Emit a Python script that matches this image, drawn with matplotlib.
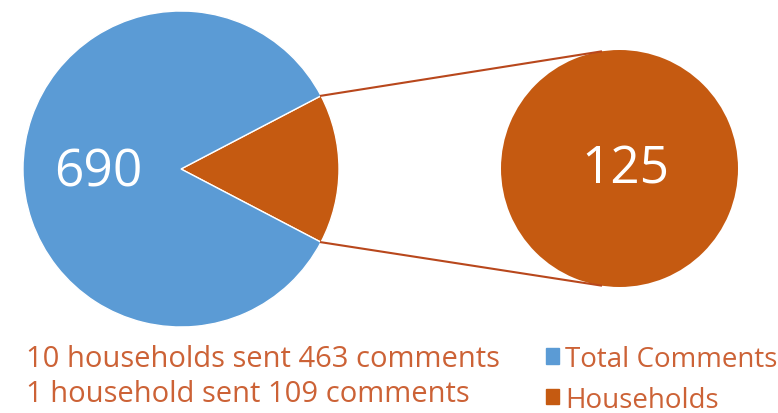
import numpy as np
import matplotlib.pyplot as plt
from matplotlib.patches import Patch

# data
labels = ['Households', 'Total Comments']
values = [125, 690]
notes = ['10 households sent 463 comments', '1 household sent 109 comments']

blue = '#5B9BD5'
orange = '#C55A11'
txt = '#CC6236'
line_col = '#B8471C'
fam = ['Open Sans', 'DejaVu Sans']

W, H = 778, 414
fig = plt.figure(figsize=(W / 100, H / 100), dpi=100)
ax = fig.add_axes([0, 0, 1, 1])

# main pie
c1, r1 = (181, 244), 158
half = values[0] / sum(values) * 360 / 2
ax.pie(values, colors=[orange, blue], startangle=-half, counterclock=True,
       center=c1, radius=r1, frame=True,
       wedgeprops=dict(edgecolor='white', linewidth=1))
ax.text(c1[0] - 82.5, c1[1] - 3, str(values[1]), color='white', fontsize=37,
        ha='center', va='center', family=fam)

# secondary pie
c2, r2 = (619.5, 244.5), 118.5
ax.pie([values[0]], colors=[orange], center=c2, radius=r2, frame=True)
ax.text(c2[0] + 6, c2[1] - 1, str(values[0]), color='white', fontsize=37,
        ha='center', va='center', family=fam)

ax.set_xlim(0, W)
ax.set_ylim(0, H)
ax.set_aspect('equal')
ax.axis('off')

# connector lines
for a0, a1 in ((half, 99), (-half, 261)):
    a0, a1 = np.deg2rad(a0), np.deg2rad(a1)
    p0 = (c1[0] + r1 * np.cos(a0), c1[1] + r1 * np.sin(a0))
    p1 = (c2[0] + r2 * np.cos(a1), c2[1] + r2 * np.sin(a1))
    ax.plot([p0[0], p1[0]], [p0[1], p1[1]], color=line_col, lw=1.5)

# notes
for i, s in enumerate(notes):
    ax.text(26, 47 - i * 35, s, color=txt, fontsize=21, family=fam,
            ha='left', va='baseline')

# legend
handles = [Patch(color=blue), Patch(color=orange)]
leg = ax.legend(handles, [labels[1], labels[0]], loc='upper left',
                bbox_to_anchor=(546 / W, 1 - 346 / H), frameon=False,
                handlelength=0.48, handleheight=0.48, handletextpad=0.2,
                labelspacing=0.45, borderaxespad=0, borderpad=0,
                prop=dict(family=fam, size=20))
for t in leg.get_texts():
    t.set_color(txt)

fig.savefig('out.png', dpi=100)
